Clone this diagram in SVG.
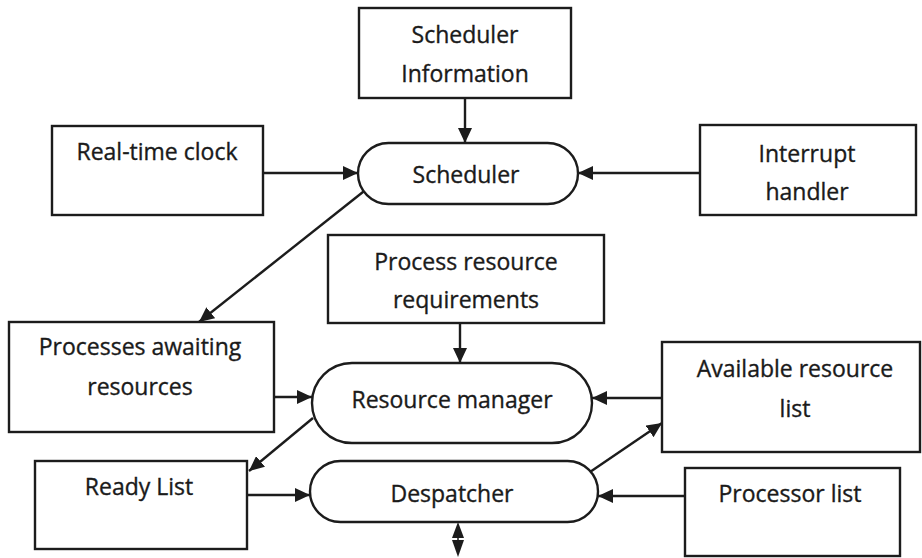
<svg xmlns="http://www.w3.org/2000/svg" width="922" height="558" viewBox="0 0 922 558">
  <style>
    .box { fill: #ffffff; stroke: #1c1c1c; stroke-width: 2.4; }
    .proc { fill: #ffffff; stroke: #1c1c1c; stroke-width: 2.4; }
    .lbl { font-family: "Open Sans", "Liberation Sans", sans-serif; font-size: 23px; fill: #1a1a1a; stroke: #1a1a1a; stroke-width: 0.35; text-anchor: middle; }
    .edge { fill: none; stroke: #1c1c1c; stroke-width: 2.4; marker-end: url(#arrow); }
  </style>
  <defs>
    <marker id="arrow" markerUnits="userSpaceOnUse" markerWidth="16" markerHeight="14" refX="15" refY="7" orient="auto">
      <path d="M0,0 L15,7 L0,14 Z" fill="#1c1c1c"/>
    </marker>
  </defs>
  <rect width="922" height="558" fill="#ffffff"/>

  <!-- connectors -->
  <g id="connectors">
    <line class="edge" x1="465" y1="98" x2="465" y2="143"/>
    <line class="edge" x1="263" y1="173" x2="358" y2="173"/>
    <line class="edge" x1="700" y1="173" x2="578" y2="173"/>
    <line class="edge" x1="368" y1="188" x2="199" y2="322"/>
    <line class="edge" x1="460" y1="323" x2="460" y2="363"/>
    <line class="edge" x1="274" y1="397" x2="312" y2="397"/>
    <line class="edge" x1="662" y1="398" x2="592" y2="398"/>
    <line class="edge" x1="313" y1="418" x2="249" y2="471"/>
    <line class="edge" x1="247" y1="495" x2="310" y2="495"/>
    <line class="edge" x1="685" y1="496" x2="598" y2="496"/>
    <line class="edge" x1="590" y1="472" x2="662" y2="423"/>
    <!-- two-way link below the despatcher -->
    <path d="M458,522 L464,538 L452,538 Z" fill="#1c1c1c"/>
    <line x1="458" y1="536" x2="458" y2="542" stroke="#1c1c1c" stroke-width="1.5"/>
    <path d="M458,557 L464,540 L452,540 Z" fill="#1c1c1c"/>
  </g>

  <g id="scheduler-information">
    <rect class="box" x="359" y="8" width="212" height="90"/>
    <text class="lbl" x="465" y="43">Scheduler</text>
    <text class="lbl" x="465" y="82">Information</text>
  </g>

  <g id="real-time-clock">
    <rect class="box" x="52" y="126" width="211" height="89"/>
    <text class="lbl" x="157" y="160">Real-time clock</text>
  </g>

  <g id="scheduler">
    <rect class="proc" x="358" y="143" width="220" height="61" rx="30.5"/>
    <text class="lbl" x="466" y="183">Scheduler</text>
  </g>

  <g id="interrupt-handler">
    <rect class="box" x="700" y="125" width="216" height="90"/>
    <text class="lbl" x="807" y="162">Interrupt</text>
    <text class="lbl" x="807" y="200">handler</text>
  </g>

  <g id="process-resource-requirements">
    <rect class="box" x="328" y="235" width="276" height="88"/>
    <text class="lbl" x="466" y="270">Process resource</text>
    <text class="lbl" x="466" y="308">requirements</text>
  </g>

  <g id="processes-awaiting-resources">
    <rect class="box" x="9" y="322" width="265" height="110"/>
    <text class="lbl" x="140" y="355">Processes awaiting</text>
    <text class="lbl" x="140" y="395">resources</text>
  </g>

  <g id="resource-manager">
    <rect class="proc" x="312" y="363" width="280" height="80" rx="40"/>
    <text class="lbl" x="452" y="408">Resource manager</text>
  </g>

  <g id="available-resource-list">
    <rect class="box" x="662" y="342" width="258" height="110"/>
    <text class="lbl" x="795" y="377">Available resource</text>
    <text class="lbl" x="795" y="417">list</text>
  </g>

  <g id="ready-list">
    <rect class="box" x="35" y="461" width="212" height="88"/>
    <text class="lbl" x="139" y="495">Ready List</text>
  </g>

  <g id="despatcher">
    <rect class="proc" x="310" y="461" width="288" height="61" rx="30.5"/>
    <text class="lbl" x="452" y="502">Despatcher</text>
  </g>

  <g id="processor-list">
    <rect class="box" x="685" y="468" width="215" height="88"/>
    <text class="lbl" x="790" y="502">Processor list</text>
  </g>
</svg>
